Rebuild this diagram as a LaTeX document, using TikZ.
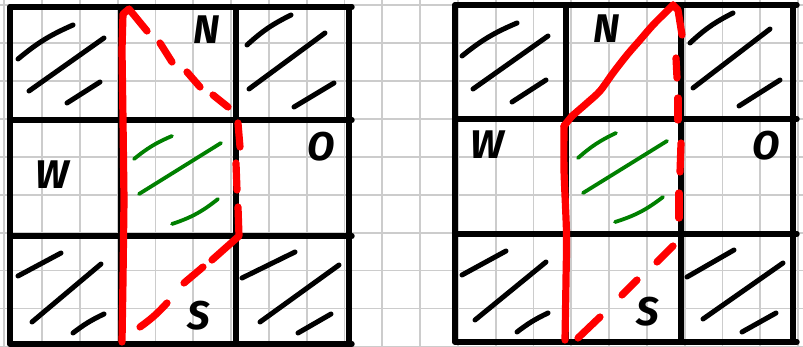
\documentclass[tikz,border=0pt]{standalone}
\usepackage{fontspec}
\newfontfamily\hand{Fira Sans}
\definecolor{paperline}{RGB}{204,204,204}
\definecolor{mgreen}{RGB}{0,128,0}
\definecolor{mred}{RGB}{255,0,0}
\begin{document}
\begin{tikzpicture}[x=1pt,y=-1pt,
  paper/.style={draw=paperline,line width=1.8pt},
  gridline/.style={draw=black,line width=5.4pt,line cap=round},
  hatch/.style={draw=black,line width=5pt,line cap=round},
  redline/.style={draw=mred,line width=7.2pt,line cap=round,line join=round},
  greenline/.style={draw=mgreen,line width=3.8pt,line cap=round},
  letter/.style={font=\hand\fontsize{40}{44}\selectfont\bfseries\itshape,inner sep=0pt}]
\useasboundingbox (0,0) rectangle (803,347);
\fill[white] (0,0) rectangle (803,347);
% graph paper
\foreach \i in {0,...,21} \draw[paper] ({4.2+37.8*\i},0) -- ++(0,347);
\foreach \j in {0,...,9} \draw[paper] (0,{5.3+37.9*\j}) -- ++(803,0);

% ---------------- left grid ----------------
\draw[gridline] (10,7) -- (352,7);
\draw[gridline] (10,120) -- (352,120);
\draw[gridline] (10,236) -- (352,236);
\draw[gridline] (10,344) -- (352,344);
\draw[gridline] (10,7) -- (10,344);
\draw[gridline] (121,7) -- (121,344);
\draw[gridline] (236,7) -- (236,344);
\draw[gridline] (349,7) -- (349,344);
% hatching
\draw[hatch] (18,59) to[bend left=8] (73,25);
\draw[hatch] (29,91) -- (104,38);
\draw[hatch] (67,103) -- (100,82);
\draw[hatch] (247,45) to[bend left=8] (291,15);
\draw[hatch] (249,89) -- (325,33);
\draw[hatch] (294,107) -- (334,83);
\draw[hatch] (18,276) -- (61,253);
\draw[hatch] (32,322) -- (101,264);
\draw[hatch] (73,333) to[bend left=6] (104,314);
\draw[hatch] (242,278) -- (295,252);
\draw[hatch] (260,322) -- (339,265);
\draw[hatch] (298,333) -- (331,314);
% green
\draw[greenline] (134,159) to[bend left=8] (172,136);
\draw[greenline] (139,194) -- (221,143);
\draw[greenline] (172,224) to[bend right=10] (218,199);
% letters
\node[letter] (nL) at (207,30) {N};
\node[letter] (wL) at (52,175) {W};
\node[letter] (oL) at (321,147) {O};
\node[letter] (sL) at (199,316) {S};
% red
\draw[redline] (122,342) -- (123,280) -- (124,200) -- (123,120) -- (122,50) -- (123,14) -- (129,9) -- (147,31);
\draw[redline] (160,43) -- (172,62);
\draw[redline] (187,72) -- (200,87);
\draw[redline] (213,95) -- (228,107);
\draw[redline] (238,123) -- (240,147);
\draw[redline] (236,163) -- (237,190);
\draw[redline] (238,207) -- (239,236) -- (212,260);
\draw[redline] (203,267) -- (184,283);
\draw[redline] (167,303) to[bend left=6] (140,327);

% ---------------- right grid ----------------
\draw[gridline] (455,5) -- (797,5);
\draw[gridline] (455,119) -- (797,119);
\draw[gridline] (455,234) -- (797,234);
\draw[gridline] (455,342) -- (797,342);
\draw[gridline] (455,5) -- (455,342);
\draw[gridline] (566,5) -- (566,342);
\draw[gridline] (681,5) -- (681,342);
\draw[gridline] (793,5) -- (793,342);
% hatching
\draw[hatch] (462,56) to[bend left=8] (517,23);
\draw[hatch] (473,89) -- (548,36);
\draw[hatch] (512,102) -- (546,80);
\draw[hatch] (690,43) to[bend left=8] (733,13);
\draw[hatch] (693,88) -- (770,29);
\draw[hatch] (739,106) -- (780,80);
\draw[hatch] (462,275) -- (506,251);
\draw[hatch] (475,320) -- (546,262);
\draw[hatch] (517,332) to[bend left=6] (548,313);
\draw[hatch] (687,277) -- (734,250);
\draw[hatch] (703,319) -- (783,263);
\draw[hatch] (742,332) -- (776,313);
% green
\draw[greenline] (578,158) to[bend left=8] (616,133);
\draw[greenline] (583,193) -- (667,141);
\draw[greenline] (615,222) to[bend right=10] (663,197);
% letters
\node[letter] (nR) at (607,29) {N};
\node[letter] (wR) at (487,145) {W};
\node[letter] (oR) at (766,146) {O};
\node[letter] (sR) at (648,312) {S};
% red
\draw[redline] plot[smooth,tension=0.45] coordinates {(565,340) (566,280) (566.5,233) (564,170) (564,126)};
\draw[redline] (564,126) -- (572,116);
\draw[redline] plot[smooth,tension=0.5] coordinates {(572,116) (587,103) (600,91) (613,73) (627,55) (640,40) (653,25) (667,11) (673,5)};
\draw[redline] (673,5) -- (678,10) -- (682,35);
\draw[redline] (676,58) -- (677,78);
\draw[redline] (678,98) -- (678,120);
\draw[redline] (681,143) -- (680,172);
\draw[redline] (679,193) -- (679,218);
\draw[redline] (673,246) -- (657,262);
\draw[redline] (637,280) -- (622,295);
\draw[redline] (600,317) -- (578,338);
\end{tikzpicture}
\end{document}
